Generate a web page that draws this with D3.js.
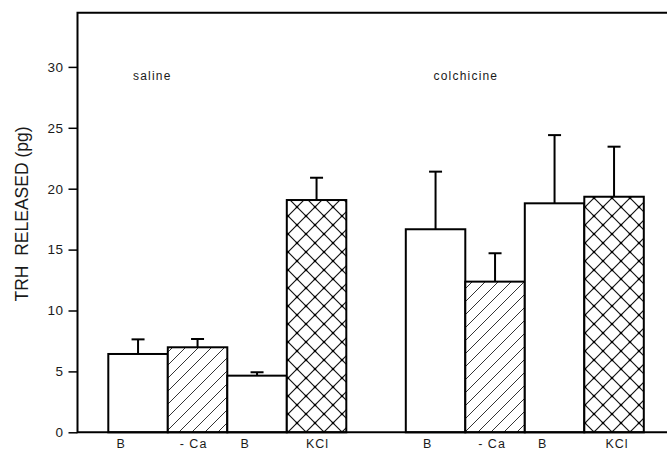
<!DOCTYPE html>
<html>
<head>
<meta charset="utf-8">
<script src="https://cdn.jsdelivr.net/npm/d3@7"></script>
<style>
  html, body { margin: 0; padding: 0; background: #fff; }
  svg { display: block; }
  text { font-family: "Liberation Sans", Arial, sans-serif; fill: #1a1a1a; }
</style>
</head>
<body>
<svg id="chart" width="667" height="454"></svg>
<script>
// TRH release: basal (B), Ca-free (-Ca), basal again (B) and K+ depolarisation (KCl)
const groups = ["saline", "colchicine"];
const conditions = ["B", "- Ca", "B", "KCl"];
const fills = ["open", "hatch", "open", "cross"];
const salineMean = [6.43, 6.98, 4.65, 19.07];
const salineSem = [1.2, 0.68, 0.28, 1.83];
const colchicineMean = [16.67, 12.37, 18.8, 19.34];
const colchicineSem = [4.73, 2.33, 5.6, 4.11];
const yTicks = [0, 5, 10, 15, 20, 25, 30];

const means = [salineMean, colchicineMean];
const sems = [salineSem, colchicineSem];

// one slot per bar, with an empty slot separating the two groups
const rows = [];
groups.forEach((g, gi) => {
  conditions.forEach((c, ci) => {
    rows.push({
      group: g, cond: c, fill: fills[ci],
      mean: means[gi][ci], sem: sems[gi][ci],
      slot: gi * (conditions.length + 1) + ci
    });
  });
});

const svg = d3.select("#chart");
const W = 667;
const plotLeft = 77.5, plotBottom = 432.3, plotTop = 12.7;

const x = d3.scaleBand()
  .domain(d3.range(2 * conditions.length + 1))
  .range([108.3, 643.8])
  .paddingInner(0).paddingOuter(0);

const y = d3.scaleLinear().domain([0, 30]).range([plotBottom, 66.9]);

// fill patterns
const defs = svg.append("defs");
const hatch = defs.append("pattern")
  .attr("id", "hatch").attr("patternUnits", "userSpaceOnUse")
  .attr("width", 13).attr("height", 13);
hatch.append("rect").attr("width", 13).attr("height", 13).attr("fill", "#fff");
hatch.append("path")
  .attr("d", "M-1,14 L14,-1 M-7,7 L7,-7 M6,20 L20,6")
  .attr("stroke", "#333").attr("stroke-width", 1);

const cross = defs.append("pattern")
  .attr("id", "cross").attr("patternUnits", "userSpaceOnUse")
  .attr("width", 18).attr("height", 18);
cross.append("rect").attr("width", 18).attr("height", 18).attr("fill", "#fff");
cross.append("path")
  .attr("d", "M0,0 L18,18 M0,18 L18,0")
  .attr("stroke", "#111").attr("stroke-width", 1.2);
[[9, 9], [0, 0], [18, 0], [0, 18], [18, 18]].forEach(p => {
  cross.append("circle").attr("cx", p[0]).attr("cy", p[1]).attr("r", 1.3).attr("fill", "#000");
});

const fillOf = f => f === "hatch" ? "url(#hatch)" : f === "cross" ? "url(#cross)" : "#fff";

// error bars (upper only), drawn behind the bars
const cap = 6.5;
const eb = svg.append("g").attr("stroke", "#000").attr("stroke-width", 2);
rows.forEach(d => {
  const cx = x(d.slot) + x.bandwidth() / 2;
  eb.append("line").attr("x1", cx).attr("x2", cx)
    .attr("y1", y(d.mean)).attr("y2", y(d.mean + d.sem));
  eb.append("line").attr("x1", cx - cap).attr("x2", cx + cap)
    .attr("y1", y(d.mean + d.sem)).attr("y2", y(d.mean + d.sem));
});

// bars
svg.append("g").selectAll("rect").data(rows).join("rect")
  .attr("x", d => x(d.slot))
  .attr("y", d => y(d.mean))
  .attr("width", x.bandwidth())
  .attr("height", d => y(0) - y(d.mean))
  .attr("fill", d => fillOf(d.fill))
  .attr("stroke", "#000").attr("stroke-width", 2);

// frame: left axis, top edge, baseline
const frame = svg.append("g").attr("stroke", "#000").attr("stroke-width", 2).attr("fill", "none");
frame.append("path").attr("d", `M${W},${plotTop} H${plotLeft} V${plotBottom} H${W}`);

// y axis ticks and labels
const yAxis = d3.axisLeft(y).tickValues(yTicks).tickSize(9).tickPadding(5).tickFormat(d3.format("d"));
const ya = svg.append("g").attr("transform", `translate(${plotLeft},0)`).call(yAxis);
ya.select(".domain").remove();
ya.selectAll(".tick line").attr("stroke", "#000").attr("stroke-width", 1.5);
ya.selectAll(".tick text").attr("font-size", 13.5).attr("fill", "#1a1a1a")
  .attr("letter-spacing", 0.5)
  .style("font-family", "'Liberation Sans', Arial, sans-serif");

// y title
svg.append("text")
  .attr("transform", `translate(28,214) rotate(-90)`)
  .attr("text-anchor", "middle")
  .attr("font-size", 17.5)
  .style("white-space", "pre")
  .text("TRH  RELEASED (pg)");

// condition labels below each bar
const labelDx = [-17, -4, -12, 1, -8, -3, -12, 3];
svg.append("g").selectAll("text").data(rows).join("text")
  .attr("x", (d, i) => x(d.slot) + x.bandwidth() / 2 + labelDx[i])
  .attr("y", 448)
  .attr("text-anchor", "middle")
  .attr("font-size", 12.5)
  .attr("letter-spacing", 1)
  .text(d => d.cond);

// group names, starting near the first bar of each group
const groupDx = [-5, -2];
svg.append("g").selectAll("text").data(groups).join("text")
  .attr("x", (g, gi) => {
    const s0 = gi * (conditions.length + 1);
    return x(s0) + x.bandwidth() / 2 + groupDx[gi];
  })
  .attr("y", 80)
  .attr("text-anchor", "start")
  .attr("font-size", 12)
  .attr("letter-spacing", 1.2)
  .text(g => g);
</script>
</body>
</html>
